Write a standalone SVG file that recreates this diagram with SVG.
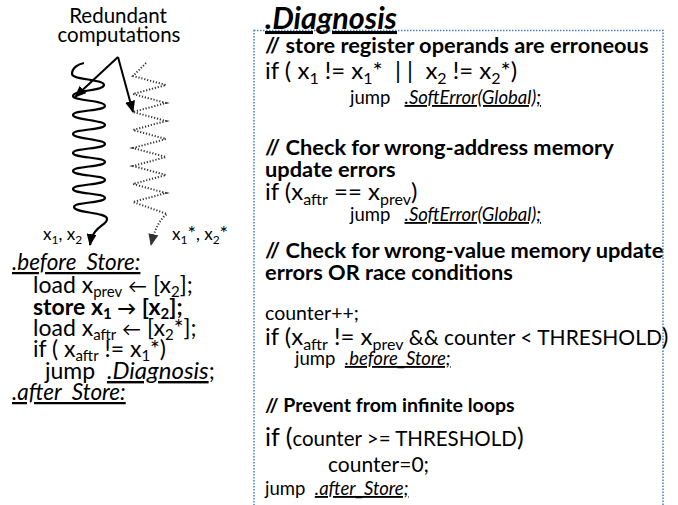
<svg xmlns="http://www.w3.org/2000/svg" width="678" height="505" viewBox="0 0 678 505">
<style>
text{font-family:Lato,"Liberation Sans",sans-serif;fill:#000;white-space:pre}
.b{font-weight:bold}
.i{font-style:italic}
.u{text-decoration:underline}
.spring{fill:none;stroke:#000;stroke-width:2.2}
.dots{fill:none;stroke:#333;stroke-width:2;stroke-dasharray:1.2 1.8}
.arr{fill:none;stroke:#000;stroke-width:2}
</style>
<defs>
<marker id="ah" viewBox="0 0 12 10" refX="11" refY="5" markerWidth="12" markerHeight="10" markerUnits="userSpaceOnUse" orient="auto">
<path d="M0,0 L12,5 L0,10 Z" fill="#000"/>
</marker>
<marker id="ahg" viewBox="0 0 12 10" refX="11" refY="5" markerWidth="12" markerHeight="10" markerUnits="userSpaceOnUse" orient="auto">
<path d="M0,0 L12,5 L0,10 Z" fill="#333"/>
</marker>
</defs>

<g id="redundant-label">
<text x="118" y="23" font-size="20.5" text-anchor="middle">Redundant</text>
<text x="119" y="42" font-size="20.5" text-anchor="middle">computations</text>
</g>

<g id="spring-original">
<path class="spring" marker-end="url(#ah)" d="M84,63 C78,64 72,68 72,74 C72,80 104,79 104,85 C104,91 73,90 73,96 C73,101 105,100 105,106 C105,111 73,110 73,115 C73,120 105,120 105,125 C105,130 73,129 73,134 C73,139 105,139 105,144 C105,149 73,148 73,153 C73,158 105,157 105,162 C105,167 73,166 73,171 C73,176 105,175 105,180 C105,185 73,184 73,189 C73,194 105,193 105,198 C105,203 74,202 74,207 C74,213 107,212 107,219 C107,226 93,225 90,245"/>
<text x="43" y="240" font-size="17">x<tspan dy="4" font-size="12">1</tspan><tspan dy="-4">, x</tspan><tspan dy="4" font-size="12">2</tspan></text>
</g>

<g id="spring-redundant">
<path class="dots" marker-end="url(#ahg)" d="M146,63 L133,76 L166,85 L133,94 L166,103 L133,112 L166,121 L133,130 L166,139 L133,148 L166,157 L133,166 L166,175 L133,184 L166,193 L133,202 L167,214 Q156,222 151,245"/>
<text x="172" y="240" font-size="17">x<tspan dy="4" font-size="12">1</tspan><tspan dy="-4" font-size="20">*</tspan><tspan font-size="17">, x</tspan><tspan dy="4" font-size="12">2</tspan><tspan dy="-4" font-size="20">*</tspan></text>
</g>

<g id="connectors">
<line class="arr" x1="118" y1="57" x2="75" y2="97" marker-end="url(#ah)"/>
<line class="arr" x1="118" y1="57" x2="133" y2="112" marker-end="url(#ah)"/>
</g>

<g id="store-code">
<text x="12" y="270" font-size="22.5" class="i u">.before_Store:</text>
<text x="33" y="293" font-size="23">load x<tspan dy="4" font-size="15">prev</tspan><tspan dy="-4"> <tspan font-size="19">←</tspan> [x</tspan><tspan dy="4" font-size="15">2</tspan><tspan dy="-4">];</tspan></text>
<text x="33" y="315" font-size="23" class="b">store x<tspan dy="4" font-size="15">1</tspan><tspan dy="-4"> <tspan font-size="19">→</tspan> [x</tspan><tspan dy="4" font-size="15">2</tspan><tspan dy="-4">];</tspan></text>
<text x="33" y="336" font-size="23">load x<tspan dy="4" font-size="15">aftr</tspan><tspan dy="-4"> <tspan font-size="19">←</tspan> [x</tspan><tspan dy="4" font-size="15">2</tspan><tspan dy="-4">*];</tspan></text>
<text x="33" y="357" font-size="23">if ( x<tspan dy="4" font-size="15">aftr</tspan><tspan dy="-4"> != x</tspan><tspan dy="4" font-size="15">1</tspan><tspan dy="-4">*)</tspan></text>
<text x="45" y="379" font-size="23">jump  <tspan class="i u" font-size="24">.Diagnosis</tspan>;</text>
<text x="12" y="400" font-size="22.5" class="i u">.after_Store:</text>
</g>

<g id="diagnosis">
<rect x="254" y="30.5" width="409" height="490" fill="none" stroke="#4a7ebb" stroke-width="1.5" stroke-dasharray="1.5 1.5"/>
<text x="265" y="29" font-size="30.5" class="b i u">.Diagnosis</text>
<text x="265" y="53" font-size="21.8" class="b">// store register operands are erroneous</text>
<text x="265" y="79" font-size="24">if ( x<tspan dy="5" font-size="16">1</tspan><tspan dy="-5"> != x</tspan><tspan dy="5" font-size="16">1</tspan><tspan dy="-5">*  |<tspan dx="6">|</tspan>  x</tspan><tspan dy="5" font-size="16">2</tspan><tspan dy="-5"> != x</tspan><tspan dy="5" font-size="16">2</tspan><tspan dy="-5">*)</tspan></text>
<text x="350" y="104" font-size="18.5">jump   <tspan class="i u">.SoftError(Global);</tspan></text>
<text x="265" y="155" font-size="21.8" class="b">// Check for wrong-address memory</text>
<text x="265" y="177" font-size="21.8" class="b">update errors</text>
<text x="265" y="200" font-size="24">if (x<tspan dy="5" font-size="16">aftr</tspan><tspan dy="-5"> == x</tspan><tspan dy="5" font-size="16">prev</tspan><tspan dy="-5">)</tspan></text>
<text x="350" y="221" font-size="18.5">jump   <tspan class="i u">.SoftError(Global);</tspan></text>
<text x="265" y="258" font-size="21.8" class="b">// Check for wrong-value memory update</text>
<text x="265" y="280" font-size="21.8" class="b">errors OR race conditions</text>
<text x="265" y="320" font-size="19.5">counter++;</text>
<text x="265" y="345" font-size="24">if (x<tspan dy="5" font-size="16">aftr</tspan><tspan dy="-5"> != x</tspan><tspan dy="5" font-size="16">prev</tspan><tspan dy="-5" font-size="21"> &amp;&amp; counter &lt; THRESHOLD</tspan><tspan font-size="24">)</tspan></text>
<text x="295" y="365" font-size="18.5">jump  <tspan class="i u">.before_Store;</tspan></text>
<text x="265" y="412" font-size="19.5" class="b">// Prevent from infinite loops</text>
<text x="265" y="446" font-size="25">if (<tspan font-size="20.5">counter &gt;= THRESHOLD</tspan>)</text>
<text x="328" y="472" font-size="21">counter=0;</text>
<text x="265" y="495" font-size="18.5">jump  <tspan class="i u">.after_Store;</tspan></text>
</g>
</svg>
